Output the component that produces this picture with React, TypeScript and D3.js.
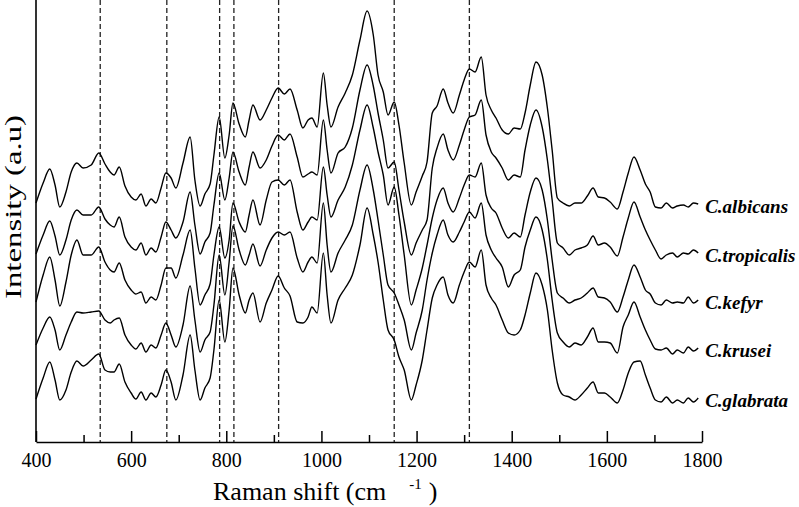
import React, { useEffect, useRef } from "react";
import * as d3 from "d3";

// Raman shift (cm-1) sample positions shared by all spectra
const shifts = [
  400, 415, 429, 440, 450, 463, 474, 486, 499, 516,
  532, 545, 556, 564, 575, 587, 600, 610, 621, 631,
  642, 652, 663, 673, 684, 694, 709, 724, 734, 745,
  755, 766, 774, 785, 797, 806, 814, 827, 840, 848,
  856, 871, 884, 896, 909, 922, 934, 949, 961, 972,
  980, 991, 1004, 1012, 1020, 1035, 1050, 1065, 1081, 1096,
  1109, 1119, 1130, 1140, 1153, 1163, 1174, 1189, 1199, 1212,
  1222, 1233, 1243, 1256, 1266, 1277, 1290, 1300, 1311, 1323,
  1336, 1346, 1357, 1367, 1380, 1393, 1405, 1418, 1428, 1439,
  1451, 1464, 1475, 1485, 1496, 1508, 1521, 1533, 1546, 1559,
  1571, 1582, 1595, 1607, 1622, 1634, 1645, 1657, 1670, 1681,
  1691, 1702, 1714, 1725, 1738, 1748, 1761, 1771, 1782, 1792,
];

// stacked intensities (a.u.), offsets included as plotted
const albicans = [
  239, 259, 273, 257, 235, 250, 270, 279, 274, 277,
  289, 278, 270, 267, 275, 256, 245, 242, 248, 236,
  243, 239, 254, 269, 264, 254, 279, 305, 262, 236,
  248, 258, 287, 325, 284, 307, 339, 318, 305, 322,
  337, 322, 332, 344, 354, 348, 353, 332, 314, 322,
  324, 315, 369, 337, 315, 335, 349, 367, 402, 431,
  407, 367, 350, 327, 340, 317, 279, 237, 250, 266,
  280, 329, 336, 353, 339, 329, 347, 362, 373, 370,
  385, 347, 332, 324, 312, 308, 314, 313, 329, 357,
  380, 367, 334, 292, 244, 239, 236, 239, 239, 246,
  254, 245, 244, 240, 233, 250, 269, 285, 272, 258,
  250, 235, 234, 239, 234, 236, 237, 235, 239, 238,
];
const tropicalis = [
  188, 207, 221, 206, 187, 202, 222, 232, 227, 227,
  235, 223, 217, 215, 225, 205, 195, 192, 199, 187,
  194, 190, 205, 220, 212, 204, 220, 250, 217, 188,
  200, 209, 237, 269, 242, 264, 290, 270, 257, 275,
  290, 274, 282, 296, 307, 302, 308, 285, 265, 268,
  270, 267, 322, 292, 269, 289, 295, 314, 352, 377,
  356, 329, 302, 274, 280, 252, 220, 187, 199, 212,
  222, 274, 294, 308, 292, 282, 297, 312, 325, 327,
  342, 307, 290, 284, 274, 262, 267, 265, 292, 317,
  332, 315, 282, 242, 199, 194, 187, 192, 194, 197,
  206, 197, 199, 195, 186, 205, 224, 240, 225, 212,
  202, 192, 183, 187, 189, 185, 189, 188, 192, 189,
];
const kefyr = [
  140, 167, 185, 162, 136, 160, 187, 202, 187, 187,
  195, 180, 172, 170, 179, 162, 152, 148, 150, 139,
  145, 142, 157, 174, 174, 164, 187, 212, 174, 137,
  147, 158, 187, 215, 184, 202, 239, 220, 210, 227,
  242, 217, 242, 260, 262, 257, 262, 230, 212, 220,
  225, 222, 275, 247, 225, 242, 255, 277, 312, 337,
  314, 290, 267, 237, 255, 227, 187, 137, 152, 174,
  197, 224, 242, 254, 239, 230, 244, 257, 267, 265,
  279, 247, 234, 229, 214, 204, 209, 205, 227, 250,
  264, 252, 222, 182, 149, 144, 139, 142, 144, 149,
  154, 145, 144, 140, 130, 145, 162, 177, 165, 152,
  148, 139, 137, 142, 139, 140, 139, 145, 139, 142,
];
const krusei = [
  97, 114, 125, 112, 92, 107, 120, 130, 129, 130,
  131, 122, 119, 122, 124, 107, 97, 93, 99, 90,
  97, 94, 107, 119, 107, 95, 117, 156, 122, 90,
  102, 110, 137, 187, 147, 180, 216, 192, 177, 187,
  198, 176, 192, 204, 210, 207, 210, 184, 170, 180,
  185, 179, 239, 197, 170, 189, 202, 217, 252, 277,
  252, 222, 187, 157, 149, 137, 122, 92, 109, 132,
  162, 189, 207, 222, 207, 200, 210, 220, 230, 224,
  239, 207, 192, 184, 175, 155, 167, 172, 195, 212,
  225, 212, 182, 142, 109, 100, 95, 99, 97, 105,
  114, 100, 100, 99, 89, 115, 127, 140, 125, 112,
  102, 93, 92, 94, 88, 92, 89, 95, 91, 94,
];
const glabrata = [
  43, 64, 80, 62, 42, 52, 70, 81, 76, 82,
  88, 72, 70, 70, 78, 60, 49, 43, 50, 42,
  49, 45, 57, 72, 60, 42, 67, 107, 72, 42,
  54, 64, 92, 142, 100, 132, 174, 147, 129, 142,
  149, 120, 139, 152, 166, 154, 146, 120, 119, 125,
  135, 129, 189, 147, 119, 142, 154, 167, 197, 234,
  207, 180, 142, 112, 102, 85, 72, 42, 57, 82,
  112, 144, 157, 165, 147, 139, 157, 170, 180, 175,
  192, 157, 144, 137, 122, 109, 107, 112, 127, 149,
  169, 157, 132, 92, 59, 47, 45, 42, 47, 54,
  60, 49, 49, 45, 39, 52, 69, 80, 81, 67,
  54, 42, 40, 45, 39, 42, 39, 44, 40, 44,
];

const seriesNames = ["C.albicans", "C.tropicalis", "C.kefyr", "C.krusei", "C.glabrata"];
const seriesValues = [albicans, tropicalis, kefyr, krusei, glabrata];

// marked band positions (dashed)
const bandLines = [535, 675, 786, 816, 910, 1153, 1311];

const xMajorTicks = [400, 600, 800, 1000, 1200, 1400, 1600, 1800];
const xMinorTicks = [500, 700, 900, 1100, 1300, 1500, 1700];

const FONT = "Liberation Serif, Tinos, Times New Roman, Times, DejaVu Serif, serif";

function App() {
  const ref = useRef<SVGSVGElement>(null);

  useEffect(() => {
    const svg = d3.select(ref.current);
    svg.selectAll("*").remove();

    const x = d3.scaleLinear().domain([400, 1800]).range([36, 702]);
    const y = d3.scaleLinear().domain([0, 442]).range([442, 0]);

    const g = svg.append("g");

    // dashed band markers
    g.selectAll(".band")
      .data(bandLines)
      .enter()
      .append("line")
      .attr("x1", (d) => x(d))
      .attr("x2", (d) => x(d))
      .attr("y1", y(442))
      .attr("y2", y(0))
      .attr("stroke", "#222")
      .attr("stroke-width", 1.3)
      .attr("stroke-dasharray", "5,3");

    // spectra
    const line = d3
      .line<number>()
      .x((d, i) => x(shifts[i]))
      .y((d) => y(d))
      .curve(d3.curveMonotoneX);

    g.selectAll(".spectrum")
      .data(seriesValues)
      .enter()
      .append("path")
      .attr("d", (d) => line(d))
      .attr("fill", "none")
      .attr("stroke", "#000")
      .attr("stroke-width", 1.4);

    // series labels at the end of each spectrum
    g.selectAll(".label")
      .data(seriesValues)
      .enter()
      .append("text")
      .text((d, i) => seriesNames[i])
      .attr("x", x(shifts[shifts.length - 1]) + 7)
      .attr("y", (d) => y(d[d.length - 1]) + 2)
      .attr("dy", "0.35em")
      .style("font-family", FONT)
      .attr("font-size", 19)
      .attr("font-weight", "bold")
      .attr("font-style", "italic")
      .attr("fill", "#000");

    // x axis
    const xAxis = d3
      .axisBottom(x)
      .tickValues(xMajorTicks)
      .tickFormat(d3.format("d"))
      .tickSize(-11)
      .tickSizeOuter(0)
      .tickPadding(11);
    const xAxisG = g.append("g").attr("transform", `translate(0,${y(0)})`).call(xAxis);
    xAxisG.attr("font-family", null).attr("font-size", null);
    xAxisG.select(".domain").attr("stroke-width", 1.6);
    xAxisG.selectAll(".tick line").attr("stroke-width", 1.5);
    xAxisG.selectAll("text").style("font-family", FONT).attr("font-size", 20).attr("fill", "#000");

    const minorAxis = d3
      .axisBottom(x)
      .tickValues(xMinorTicks)
      .tickFormat(() => "")
      .tickSize(-7)
      .tickSizeOuter(0);
    const minorG = g.append("g").attr("transform", `translate(0,${y(0)})`).call(minorAxis);
    minorG.select(".domain").remove();
    minorG.selectAll(".tick line").attr("stroke-width", 1.5);

    // y axis line (no ticks)
    g.append("line")
      .attr("x1", x(400))
      .attr("x2", x(400))
      .attr("y1", y(0))
      .attr("y2", y(442))
      .attr("stroke", "#000")
      .attr("stroke-width", 1.6);

    // axis titles
    const xTitle = g
      .append("text")
      .attr("x", 213)
      .attr("y", 500)
      .style("font-family", FONT)
      .attr("font-size", 26)
      .attr("fill", "#000");
    xTitle.append("tspan").text("Raman shift (cm");
    xTitle.append("tspan").attr("dx", 23).attr("dy", -11).attr("font-size", 15).text("-1");
    xTitle.append("tspan").attr("dx", 7).attr("dy", 11).text(")");

    g.append("text")
      .attr("transform", "translate(21,207) rotate(-90)")
      .attr("text-anchor", "middle")
      .style("font-family", FONT)
      .attr("font-size", 24)
      .attr("textLength", 184)
      .attr("lengthAdjust", "spacingAndGlyphs")
      .attr("fill", "#000")
      .text("Intensity (a.u)");
  }, []);

  return (
    <svg
      ref={ref}
      width={799}
      height={507}
      style={{ position: "absolute", left: 0, top: 0, background: "#fff" }}
    />
  );
}

export default App;
